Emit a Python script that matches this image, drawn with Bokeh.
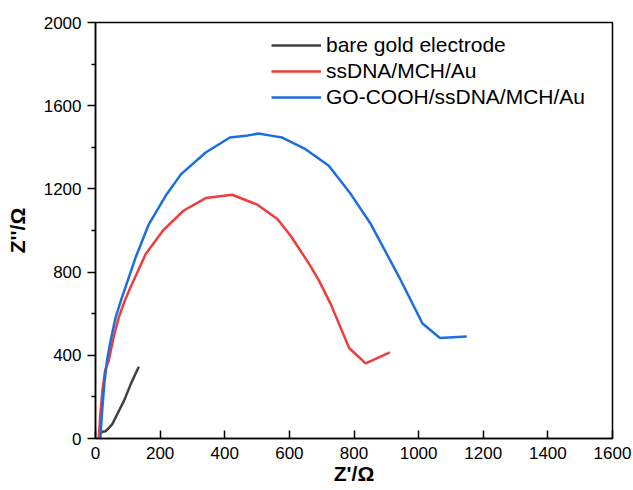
from bokeh.plotting import figure
from bokeh.models import Range1d, FixedTicker, Legend, LegendItem
from bokeh.embed import file_html
from bokeh.resources import INLINE

# --- data (Z' in ohm, -Z'' in ohm) ---
bare_x = [10, 15, 22, 31, 40, 52, 70, 88, 110, 134]
bare_y = [0, 25, 32, 35, 48, 69, 125, 181, 265, 345]

ssdna_x = [10, 15, 22, 30, 41, 55, 72, 90, 108, 130, 155, 210, 272, 341, 423,
           501, 563, 604, 665, 692, 728, 785, 836, 911]
ssdna_y = [0, 120, 240, 330, 374, 480, 582, 660, 726, 800, 886, 1002, 1095, 1156, 1172,
           1124, 1055, 975, 830, 758, 646, 435, 361, 414]

go_x = [15, 20, 27, 36, 48, 62, 80, 100, 124, 165, 217, 265, 341, 416, 465,
        504, 547, 578, 650, 722, 790, 852, 940, 1012, 1066, 1149]
go_y = [0, 120, 260, 380, 480, 580, 670, 760, 870, 1030, 1167, 1271, 1375, 1447, 1455,
        1466, 1455, 1447, 1391, 1311, 1175, 1031, 775, 553, 483, 490]

labels = ["bare gold electrode", "ssDNA/MCH/Au", "GO-COOH/ssDNA/MCH/Au"]
colors = ["#404040", "#F03C3C", "#1C6EE0"]

x_ticks = [0, 200, 400, 600, 800, 1000, 1200, 1400, 1600]
y_ticks = [0, 400, 800, 1200, 1600, 2000]
y_minor = [200, 600, 1000, 1400, 1800]

FONT = "Liberation Sans"

p = figure(width=633, height=490, output_backend="svg", toolbar_location=None,
           x_range=Range1d(0, 1600), y_range=Range1d(0, 2000),
           min_border_left=95, min_border_right=21, min_border_top=22, min_border_bottom=52)
p.background_fill_color = "white"
p.border_fill_color = "white"
p.grid.visible = False
p.outline_line_color = "black"
p.outline_line_width = 1.5
p.outline_line_alpha = 1.0

r_bare = p.line(bare_x, bare_y, line_color=colors[0], line_width=2.5)
r_ss = p.line(ssdna_x, ssdna_y, line_color=colors[1], line_width=2.5)
r_go = p.line(go_x, go_y, line_color=colors[2], line_width=2.5)

# x axis
xa = p.xaxis[0]
xa.ticker = FixedTicker(ticks=x_ticks, minor_ticks=[])
xa.major_tick_in = 8
xa.major_tick_out = 0
xa.minor_tick_in = 0
xa.minor_tick_out = 0
xa.axis_line_width = 1.5
xa.major_tick_line_width = 1.5
xa.major_label_text_font = FONT
xa.major_label_text_font_size = "17px"
xa.major_label_text_color = "black"
xa.major_label_standoff = 8
xa.axis_label = "Z'/Ω"
xa.axis_label_text_font = FONT
xa.axis_label_text_font_style = "bold"
xa.axis_label_text_font_size = "21px"
xa.axis_label_text_color = "black"
xa.axis_label_standoff = 0

# y axis
ya = p.yaxis[0]
ya.ticker = FixedTicker(ticks=y_ticks, minor_ticks=y_minor)
ya.major_tick_in = 0
ya.major_tick_out = 8
ya.minor_tick_in = 0
ya.minor_tick_out = 4
ya.axis_line_width = 1.5
ya.major_tick_line_width = 1.5
ya.minor_tick_line_width = 1.5
ya.major_label_text_font = FONT
ya.major_label_text_font_size = "17px"
ya.major_label_text_color = "black"
ya.major_label_standoff = 6
ya.axis_label = "Z''/Ω"
ya.axis_label_text_font = FONT
ya.axis_label_text_font_style = "bold"
ya.axis_label_text_font_size = "21px"
ya.axis_label_text_color = "black"
ya.axis_label_standoff = 12

legend = Legend(items=[LegendItem(label=labels[0], renderers=[r_bare]),
                       LegendItem(label=labels[1], renderers=[r_ss]),
                       LegendItem(label=labels[2], renderers=[r_go])],
                location=(176, 329))
legend.border_line_color = None
legend.background_fill_alpha = 0
legend.padding = 0
legend.margin = 0
legend.spacing = 2
legend.glyph_width = 50
legend.glyph_height = 20
legend.label_height = 20
legend.label_standoff = 5
legend.label_text_font = FONT
legend.label_text_font_size = "21px"
legend.label_text_color = "black"
p.add_layout(legend, "center")

open("out.html", "w").write(file_html(p, INLINE))
